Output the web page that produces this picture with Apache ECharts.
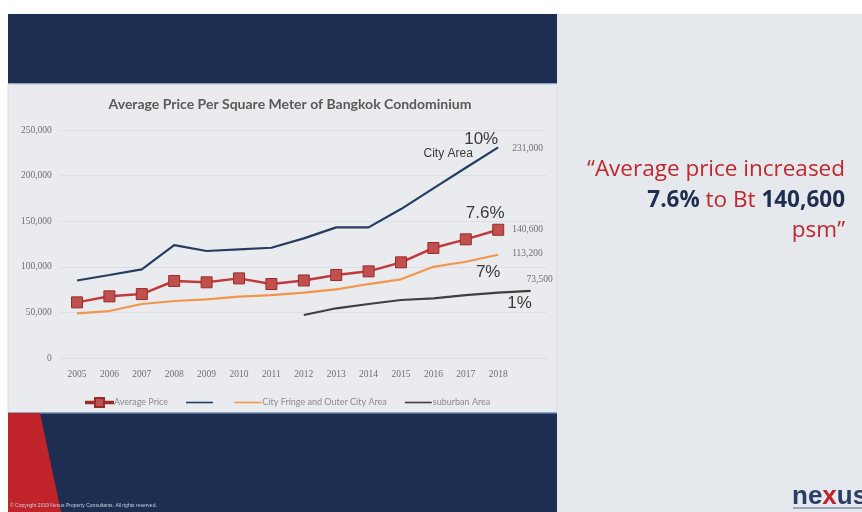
<!DOCTYPE html>
<html>
<head>
<meta charset="utf-8">
<script src="https://cdn.jsdelivr.net/npm/echarts@6/dist/echarts.min.js"></script>
<style>
html,body{margin:0;padding:0;background:#ffffff;}
#chart{width:862px;height:512px;}
</style>
</head>
<body>
<div id="chart"></div>
<script>
// ---- data ----
var years = ['2005','2006','2007','2008','2009','2010','2011','2012','2013','2014','2015','2016','2017','2018',''];
var avgPrice   = [61000, 67600, 70100, 84400, 83000, 87300, 81100, 85000, 91000, 95000, 104900, 120600, 130100, 140600];
var cityArea   = [85000, 91000, 97200, 123800, 117300, 119100, 120900, 131200, 143200, 143200, 163300, 186000, 208600, 231000];
var cityFringe = [49000, 51500, 59200, 62500, 64300, 67200, 69000, 71600, 75300, 81100, 86300, 100000, 105500, 113200];
var suburban   = [null, null, null, null, null, null, null, 47100, 54500, 59200, 63600, 65400, 69000, 71600, 73500];
var yTicks = [0, 50000, 100000, 150000, 200000, 250000];
var seriesNames = ['Average Price', ' ', 'City Fringe and Outer City Area', 'suburban Area'];
var endValueLabels = ['140,600', '231,000', '113,200', '73,500'];
var growthLabels = ['7.6%', '10%', '7%', '1%'];
var areaLabel = 'City Area';
var titleText = 'Average Price Per Square Meter of Bangkok Condominium';

var chart = echarts.init(document.getElementById('chart'));

var valFont = {fontFamily: 'Liberation Serif', fontSize: 9.5, color: '#6f6f6f'};
var pctFont = {fontFamily: 'Liberation Sans', fontSize: 17, color: '#3a3a3a'};

var lineIcon = 'path://M0,4.2L27,4.2L27,5.8L0,5.8Z';
var markerIcon = 'path://M0,4.2L9,4.2L9,0.5L18,0.5L18,4.2L27,4.2L27,5.8L18,5.8L18,9.5L9,9.5L9,5.8L0,5.8Z';

function mp(idx, val, items) {
  return {
    symbol: 'circle', symbolSize: 1, silent: true,
    itemStyle: {color: 'rgba(0,0,0,0)'},
    data: items.map(function (it) {
      return {
        coord: [idx, val],
        label: Object.assign({show: true, position: 'inside', formatter: it.text, offset: it.offset, align: it.align || 'center', verticalAlign: 'middle'}, it.style)
      };
    })
  };
}

var option = {
  backgroundColor: '#ffffff',
  animation: false,
  graphic: [
    {type: 'rect', z: -10, shape: {x: 8, y: 14, width: 549, height: 70}, style: {fill: '#1d2e52'}},
    {type: 'rect', z: -10, shape: {x: 8, y: 83, width: 549, height: 1.5}, style: {fill: '#8fa6c8'}},
    {type: 'rect', z: -10, shape: {x: 8, y: 84.5, width: 549, height: 328}, style: {fill: '#e9ebef', stroke: '#d5d8de', lineWidth: 1}},
    {type: 'rect', z: -10, shape: {x: 8, y: 413, width: 549, height: 99}, style: {fill: '#1d2e52'}},
    {type: 'rect', z: -10, shape: {x: 8, y: 412, width: 549, height: 1.5}, style: {fill: '#8fa6c8'}},
    {type: 'polygon', z: -9, shape: {points: [[8, 413], [40, 413], [61, 512], [8, 512]]}, style: {fill: '#c1232b'}},
    {type: 'rect', z: -10, shape: {x: 557, y: 14, width: 305, height: 498}, style: {fill: '#e5e8ed'}},
    {type: 'text', z: 5, left: 10, top: 503, style: {text: '© Copyright 2019 Nexus Property Consultants. All rights reserved.', fontSize: 5, fill: '#c9d0de', fontFamily: 'Liberation Sans'}},
    {type: 'text', z: 5, right: 17, top: 158, style: {text: '\u201CAverage price increased', fontFamily: 'Open Sans', fontSize: 22.5, fill: '#c1272d', align: 'right'}},
    {type: 'text', z: 5, right: 17, top: 189, style: {
      text: '{b|7.6%}{r| to Bt }{b|140,600}',
      align: 'right',
      rich: {
        b: {fontFamily: 'Open Sans', fontSize: 22.5, fontWeight: 'bold', fill: '#1f2d4e'},
        r: {fontFamily: 'Open Sans', fontSize: 22.5, fill: '#c1272d'}
      }
    }},
    {type: 'text', z: 5, right: 17, top: 219, style: {text: 'psm\u201D', fontFamily: 'Open Sans', fontSize: 22.5, fill: '#c1272d', align: 'right'}},
    {type: 'text', z: 5, left: 792, top: 484, style: {
      text: '{n|ne}{x|x}{n|us}',
      rich: {
        n: {fontFamily: 'Liberation Sans', fontSize: 26, fontWeight: 'bold', fill: '#2b3f66'},
        x: {fontFamily: 'Liberation Sans', fontSize: 26, fontWeight: 'bold', fill: '#c1232b'}
      }
    }},
    {type: 'rect', z: 5, shape: {x: 793, y: 507, width: 69, height: 2}, style: {fill: '#9aa6ba'}}
  ],
  title: {
    text: titleText,
    left: 285, top: 92, textAlign: 'center',
    textStyle: {fontFamily: 'Lato', fontSize: 14, fontWeight: 'bold', color: '#595959'}
  },
  legend: {
    left: 80, top: 392,
    itemWidth: 27, itemHeight: 10, itemGap: 18,
    textStyle: {fontFamily: 'Lato', fontSize: 9, color: '#8a8a8a', padding: [0, 0, 0, -4]},
    data: [
      {name: seriesNames[0], icon: markerIcon},
      {name: seriesNames[1], icon: lineIcon},
      {name: seriesNames[2], icon: lineIcon},
      {name: seriesNames[3], icon: lineIcon}
    ]
  },
  grid: {left: 60.8, right: 315.2, top: 130, bottom: 154, containLabel: false},
  xAxis: {
    type: 'category', data: years, boundaryGap: true,
    axisLine: {show: true, lineStyle: {color: '#dadde2'}},
    axisTick: {show: false},
    axisLabel: {fontFamily: 'Liberation Serif', fontSize: 9.5, color: '#6f6f6f', margin: 11}
  },
  yAxis: {
    type: 'value', min: yTicks[0], max: yTicks[yTicks.length - 1], interval: 50000,
    axisLine: {show: false}, axisTick: {show: false},
    splitLine: {lineStyle: {color: '#dcdfe4', width: 1}},
    axisLabel: {
      fontFamily: 'Liberation Serif', fontSize: 9.5, color: '#6f6f6f', margin: 9,
      formatter: function (v) { return v === 0 ? '0' : v.toLocaleString('en-US'); }
    }
  },
  series: [
    {
      name: seriesNames[1], type: 'line', data: cityArea, symbol: 'none', z: 3,
      lineStyle: {color: '#243d60', width: 2.2}, itemStyle: {color: '#243d60'},
      markPoint: mp(13, cityArea[13], [
        {text: endValueLabels[1], offset: [14, 1], align: 'left', style: valFont},
        {text: growthLabels[1], offset: [-17, -8], style: pctFont},
        {text: areaLabel, offset: [-50, 6], style: {fontFamily: 'Liberation Sans', fontSize: 12, color: '#3a3a3a'}}
      ])
    },
    {
      name: seriesNames[0], type: 'line', data: avgPrice, symbol: 'rect', symbolSize: 11, showSymbol: true, z: 5,
      lineStyle: {color: '#c0393b', width: 2.5},
      itemStyle: {color: '#c0504d', borderColor: '#9b2a2a', borderWidth: 1},
      markPoint: mp(13, avgPrice[13], [
        {text: endValueLabels[0], offset: [14, 0], align: 'left', style: valFont},
        {text: growthLabels[0], offset: [-13, -16], style: pctFont}
      ])
    },
    {
      name: seriesNames[2], type: 'line', data: cityFringe, symbol: 'none', z: 4,
      lineStyle: {color: '#f3954a', width: 2.2}, itemStyle: {color: '#f3954a'},
      markPoint: mp(13, cityFringe[13], [
        {text: endValueLabels[2], offset: [14, -1], align: 'left', style: valFont},
        {text: growthLabels[2], offset: [-10, 18], style: pctFont}
      ])
    },
    {
      name: seriesNames[3], type: 'line', data: suburban, symbol: 'none', z: 4, connectNulls: false,
      lineStyle: {color: '#3f3f3f', width: 2.2}, itemStyle: {color: '#3f3f3f'},
      markPoint: mp(14, suburban[14], [
        {text: endValueLabels[3], offset: [-4, -11], align: 'left', style: valFont},
        {text: growthLabels[3], offset: [-11, 12], style: pctFont}
      ])
    }
  ]
};
chart.setOption(option);
</script>
</body>
</html>
